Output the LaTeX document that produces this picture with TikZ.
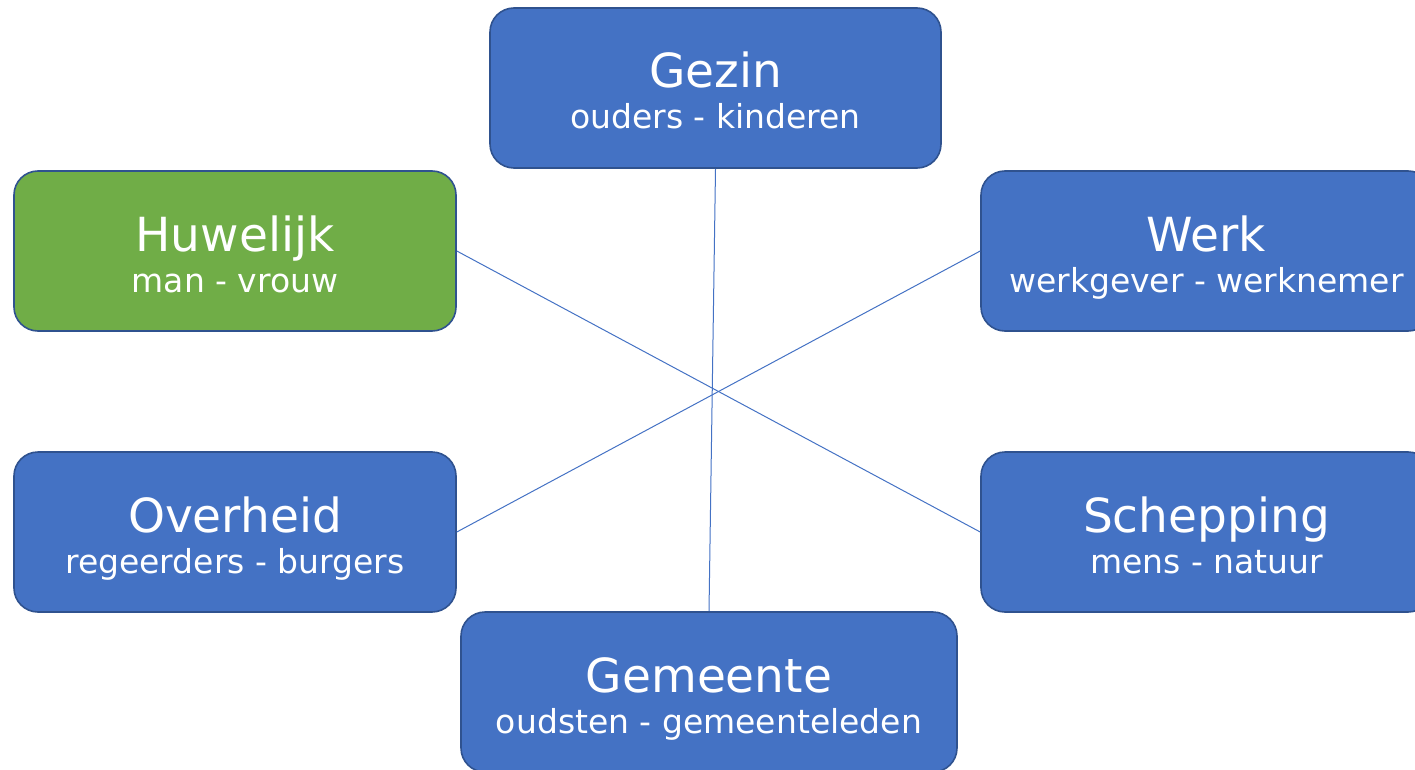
\documentclass[tikz,border=0pt]{standalone}
\usepackage{fontspec}
\setmainfont{DejaVu Sans}
\definecolor{blauw}{HTML}{4472C4}
\definecolor{rand}{HTML}{2F528F}
\definecolor{groen}{HTML}{70AD47}
\begin{document}
\begin{tikzpicture}[x=1pt, y=-1pt,
    vak/.style={draw=rand, line width=1.6pt, fill=blauw, rounded corners=24pt,
        minimum width=451pt, minimum height=160pt, inner sep=0pt,
        text=white, align=center, font=\fontsize{33}{41}\selectfont,
        text height=82pt, text depth=0pt},
    lijn/.style={draw=blauw, line width=1pt}]
    \def\kop#1{{\fontsize{47}{41}\selectfont #1}}

    \useasboundingbox (0,0) rectangle (1415,770);

    \node[vak] (gezin) at (715.5,88) {\kop{Gezin}\\ouders - kinderen};

    \node[vak, fill=groen, minimum width=442pt] (huwelijk) at (235,251) {\kop{Huwelijk}\\man - vrouw};
    \node[vak] (werk) at (1206.5,251) {\kop{Werk}\\werkgever - werknemer};

    \node[vak, minimum width=442pt] (overheid) at (235,532) {\kop{Overheid}\\regeerders - burgers};
    \node[vak] (schepping) at (1206.5,532) {\kop{Schepping}\\mens - natuur};

    \node[vak, minimum width=496pt] (gemeente) at (709,692) {\kop{Gemeente}\\oudsten - gemeenteleden};

    \draw[lijn] (gezin.south) -- (gemeente.north);
    \draw[lijn] (huwelijk.east) -- (schepping.west);
    \draw[lijn] (werk.west) -- (overheid.east);
\end{tikzpicture}
\end{document}
